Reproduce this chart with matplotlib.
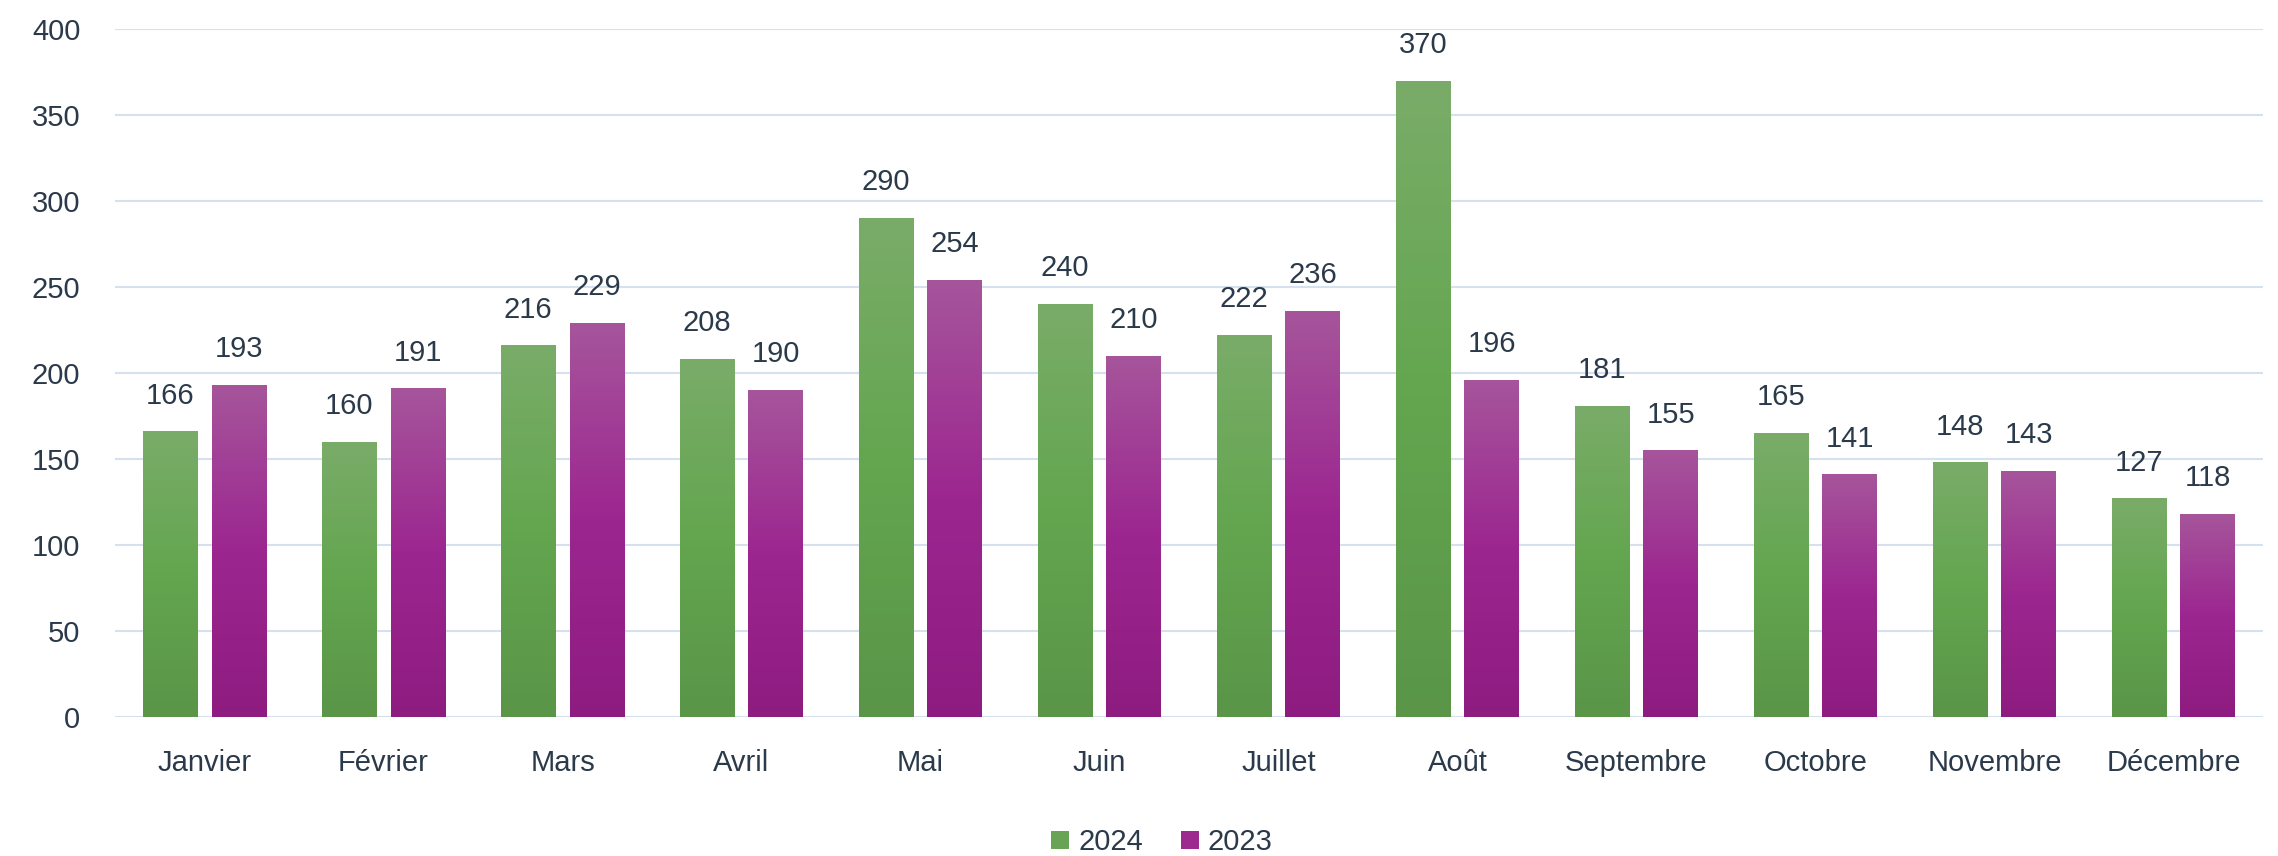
import numpy as np
import matplotlib.pyplot as plt
from matplotlib.colors import LinearSegmentedColormap
from matplotlib.patches import Patch

months = ["Janvier", "Février", "Mars", "Avril", "Mai", "Juin", "Juillet",
          "Août", "Septembre", "Octobre", "Novembre", "Décembre"]
values_2024 = [166, 160, 216, 208, 290, 240, 222, 370, 181, 165, 148, 127]
values_2023 = [193, 191, 229, 190, 254, 210, 236, 196, 155, 141, 143, 118]
series_names = ["2024", "2023"]

text_color = "#2b3a4a"
grid_color = "#d5e1ef"

# gradient colours: bottom -> middle -> top
green_cmap = LinearSegmentedColormap.from_list("g", ["#5a9548", "#63a64f", "#7aac69"])
purple_cmap = LinearSegmentedColormap.from_list("p", ["#8e1c80", "#9c2690", "#a6559b"])

plt.rcParams['font.family'] = ['Liberation Sans', 'DejaVu Sans']

fig = plt.figure(figsize=(22.78, 8.56), dpi=100)
ax = fig.add_axes([0.0505, 0.1625, 0.9429, 0.8037])

x = np.arange(len(months))
width = 0.307
gap = 0.078
offsets = [-(width + gap) / 2, (width + gap) / 2]
grad = np.linspace(0, 1, 256).reshape(-1, 1)

for vals, off, cmap in zip([values_2024, values_2023], offsets, [green_cmap, purple_cmap]):
    bars = ax.bar(x + off, vals, width, color="none", edgecolor="none", zorder=2)
    for b, v in zip(bars, vals):
        x0 = b.get_x()
        im = ax.imshow(grad, cmap=cmap, aspect="auto", origin="lower",
                       extent=[x0, x0 + width, 0, v], zorder=2)
        im.set_clip_path(b)
        ax.annotate(str(v), (b.get_x() + width / 2, v), xytext=(0, 20),
                    textcoords="offset points", ha="center", va="baseline",
                    fontsize=21, color=text_color)

ax.set_xlim(-0.5, len(months) - 0.5)
ax.set_ylim(0, 400)
ax.set_yticks(range(0, 401, 50))
ax.set_xticks(x)
ax.set_xticklabels(months, fontsize=21)
ax.tick_params(axis='y', labelsize=21, colors=text_color, length=0, pad=25)
ax.tick_params(axis='x', colors=text_color, length=0, pad=23)
ax.yaxis.grid(True, color=grid_color, linewidth=1.5, zorder=0)
ax.set_axisbelow(True)
for s in ax.spines.values():
    s.set_visible(False)

handles = [Patch(facecolor="#68a356"), Patch(facecolor="#9c2a8f")]
fig.legend(handles, series_names, loc="center", bbox_to_anchor=(0.51, 0.016),
           ncol=2, frameon=False, fontsize=21, handlelength=0.62, handleheight=0.62,
           handletextpad=0.3, columnspacing=1.3, labelcolor=text_color)

fig.savefig("out.png", dpi=100)
